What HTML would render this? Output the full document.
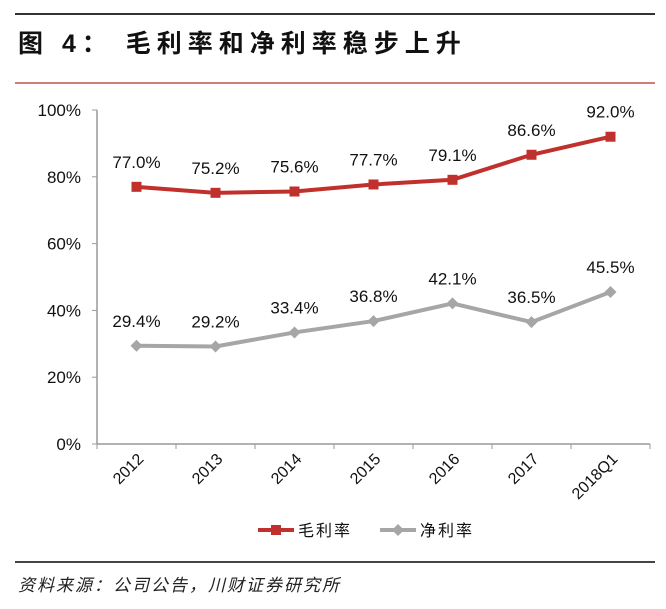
<!DOCTYPE html>
<html><head><meta charset="utf-8">
<style>
body{margin:0;background:#fff;width:666px;height:604px;overflow:hidden;font-family:"Liberation Sans","Noto Sans CJK SC",sans-serif;}
</style></head>
<body>
<svg width="666" height="604" xmlns="http://www.w3.org/2000/svg">
<line x1="15" y1="14" x2="655" y2="14" stroke="#333" stroke-width="2"/>
<text x="18" y="52" font-size="25" font-weight="bold" letter-spacing="6" font-family="Liberation Sans,Noto Sans CJK SC,sans-serif" fill="#111">图 4： 毛利率和净利率稳步上升</text>
<line x1="15" y1="83" x2="655" y2="83" stroke="#c0504d" stroke-width="1.5"/>
<g id="plot"></g>
<line x1="15" y1="562" x2="655" y2="562" stroke="#444" stroke-width="2"/>
<text x="18" y="591" font-size="17" font-style="italic" letter-spacing="2" font-family="Noto Sans CJK SC,sans-serif" fill="#222">资料来源：公司公告，川财证券研究所</text>
</svg>
<script>
const categories=["2012","2013","2014","2015","2016","2017","2018Q1"];
const grossMargin=[77.0,75.2,75.6,77.7,79.1,86.6,92.0];
const netMargin=[29.4,29.2,33.4,36.8,42.1,36.5,45.5];
const yTicks=[0,20,40,60,80,100];
const NS="http://www.w3.org/2000/svg";
const g=document.getElementById('plot');
const x0=97,x1=650,yTop=110,yBot=444;
const band=(x1-x0)/categories.length;
const X=i=>x0+band*(i+0.5);
const Y=v=>yBot-(v/100)*(yBot-yTop);
function mk(t,a,p){const e=document.createElementNS(NS,t);for(const k in a)e.setAttribute(k,a[k]);(p||g).appendChild(e);return e;}
let ax=mk('line',{x1:x0,y1:yTop,x2:x0,y2:yBot,stroke:'#999','stroke-width':1.5});


let xa=mk('line',{x1:x0,y1:yBot,x2:x1,y2:yBot,stroke:'#999','stroke-width':1.5});


yTicks.forEach(v=>{
 mk('line',{x1:x0-5,y1:Y(v),x2:x0,y2:Y(v),stroke:'#999'});
 const t=mk('text',{x:x0-16,y:Y(v)+6,'text-anchor':'end','font-size':17,fill:'#111'});
 t.textContent=v+'%';
 
 
});
for(let i=0;i<=categories.length;i++){mk('line',{x1:x0+band*i,y1:yBot,x2:x0+band*i,y2:yBot+5,stroke:'#999'});}
categories.forEach((c,i)=>{
 const t=mk('text',{x:X(i)+8,y:yBot+16,'text-anchor':'end','font-size':16,fill:'#111',transform:`rotate(-45 ${X(i)+8} ${yBot+16})`});
 t.textContent=c;
 
 
});
function series(vals,color,name,marker){
 const pl=mk('polyline',{points:vals.map((v,i)=>X(i)+','+Y(v)).join(' '),fill:'none',stroke:color,'stroke-width':4});
 
 
 vals.forEach((v,i)=>{
  let m;
  if(marker==='sq')m=mk('rect',{x:X(i)-5,y:Y(v)-5,width:10,height:10,fill:color});
  else m=mk('polygon',{points:`${X(i)},${Y(v)-6} ${X(i)+6},${Y(v)} ${X(i)},${Y(v)+6} ${X(i)-6},${Y(v)}`,fill:color});
  
  
  const t=mk('text',{x:X(i),y:Y(v)-19,'text-anchor':'middle','font-size':17,fill:'#111'});
  t.textContent=v.toFixed(1)+'%';
  
  
 });
}
series(grossMargin,'#c0302c','gross-margin','sq');
series(netMargin,'#a6a6a6','net-margin','dia');
const lg=mk('g',{});


mk('line',{x1:258,y1:530,x2:294,y2:530,stroke:'#c0302c','stroke-width':4},lg);
mk('rect',{x:271,y:525,width:10,height:10,fill:'#c0302c'},lg);
let t1=mk('text',{x:298,y:536,'font-size':16,fill:'#111','letter-spacing':2},lg);t1.textContent='毛利率';


mk('line',{x1:380,y1:530,x2:416,y2:530,stroke:'#a6a6a6','stroke-width':4},lg);
mk('polygon',{points:'398,524 404,530 398,536 392,530',fill:'#a6a6a6'},lg);
let t2=mk('text',{x:420,y:536,'font-size':16,fill:'#111','letter-spacing':2},lg);t2.textContent='净利率';


</script>
</body></html>
